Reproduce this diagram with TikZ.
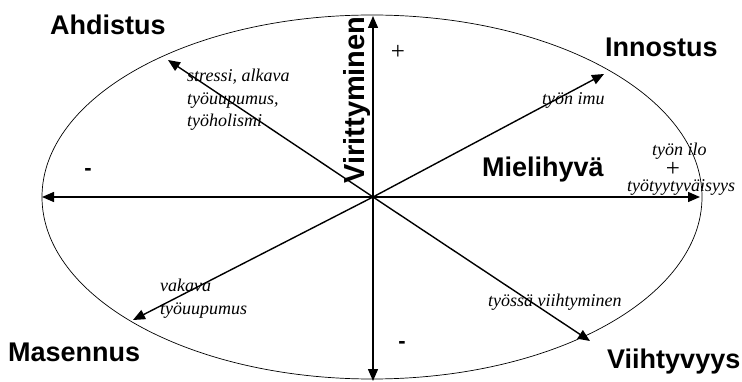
\documentclass[tikz,border=0pt]{standalone}
\usepackage{fontspec}
\setmainfont{Liberation Serif}
\newfontfamily\hv{Liberation Sans}
\usetikzlibrary{arrows.meta}
\tikzset{
  ax/.style={line width=1.4pt,-{Triangle[length=12pt,width=10pt]}},
  big/.style={font=\hv\bfseries\fontsize{27}{30}\selectfont,inner sep=0pt},
  note/.style={font=\itshape\fontsize{18}{22.5}\selectfont,inner sep=0pt,align=left},
  sgn/.style={font=\fontsize{25}{26}\selectfont,inner sep=0pt},
  msgn/.style={font=\hv\bfseries\fontsize{22}{24}\selectfont,inner sep=0pt},
}
\begin{document}
\begin{tikzpicture}[x=1pt,y=-1pt]
\useasboundingbox (0,0) rectangle (742,382);
\draw[line width=0.7pt] (372,197) ellipse [x radius=330, y radius=182];
\coordinate (c) at (373,197);
\coordinate (l) at (42,197);
\coordinate (r) at (700,197);
\coordinate (t) at (373,16);
\coordinate (b) at (373,381);
\coordinate (ah) at (168,60);
\coordinate (in) at (604,74);
\coordinate (ma) at (133,320);
\coordinate (vi) at (590,341);
\draw[ax] (c) -- (l);
\draw[ax] (c) -- (r);
\draw[ax] (c) -- (t);
\draw[ax] (c) -- (b);
\draw[ax] (c) -- (ah);
\draw[ax] (c) -- (in);
\draw[ax] (c) -- (ma);
\draw[ax] (c) -- (vi);
\node[big,anchor=west] (n1) at (50,25) {Ahdistus};
\node[big,anchor=west] (n2) at (605,47) {Innostus};
\node[big,anchor=west] (n3) at (482,170) {Mielihyvä};
\node[big,rotate=90,font=\hv\bfseries\fontsize{29}{30}\selectfont] (n4) at (357,100) {Virittyminen};
\node[big,anchor=west] (n5) at (8,352) {Masennus};
\node[big,anchor=west] (n6) at (607,362) {Viihtyvyys};
\node[note,anchor=north west] (s1) at (187,69) {stressi, alkava\\työuupumus,\\työholismi};
\node[note,anchor=west] (s2) at (542,100) {työn imu};
\node[note,anchor=west] (s3) at (652,151) {työn ilo};
\node[note,anchor=west] (s4) at (627,187) {työtyytyväisyys};
\node[sgn] (p1) at (398,52) {+};
\node[sgn] (p2) at (673,169) {+};
\node[note,anchor=north west] (s5) at (160,279) {vakava\\työuupumus};
\node[note,anchor=west] (s6) at (488,302) {työssä viihtyminen};
\node[msgn] (m1) at (88,172) {-};
\node[msgn] (m2) at (402,345) {-};
\end{tikzpicture}
\end{document}
